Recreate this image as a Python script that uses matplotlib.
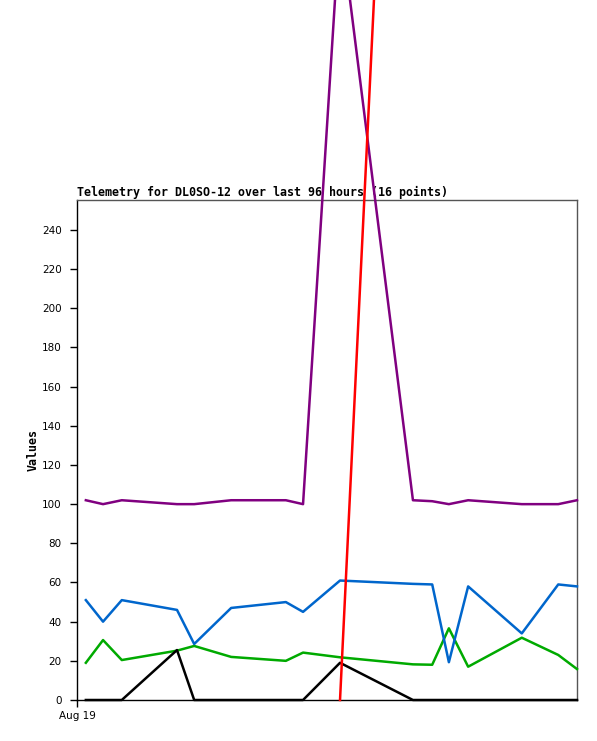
import numpy as np
import matplotlib
matplotlib.use("Agg")
import matplotlib.pyplot as plt

# hours since Aug 19 00:00
hours = [1.7, 5.0, 8.6, 19.2, 22.5, 29.6, 40.1, 43.4, 50.5, 64.5, 68.2, 71.4, 75.1, 85.4, 92.4, 96.0]
purple = [102, 100, 102, 100, 100, 102, 102, 100, 398, 102, 101.5, 100, 102, 100, 100, 102]
blue = [51, 40, 51, 46, 28.6, 47, 50, 45, 61, 59.3, 59, 19.3, 58, 34, 59, 58]
green = [19, 30.6, 20.4, 25.2, 27.6, 22, 20, 24.2, 21.8, 18.2, 18, 36.6, 17, 31.8, 23, 15.8]
black = [0, 0, 0, 25.5, 0, 0, 0, 0, 19, 0, 0, 0, 0, 0, 0, 0]
red = [np.nan] * 8 + [0, 768] + [np.nan] * 6
xtick_pos = [0]
xtick_labels = ["Aug 19"]
yticks = list(range(0, 241, 20))

W, H = 597, 741
fig = plt.figure(figsize=(W / 100, H / 100), dpi=100)
ax = fig.add_axes([77 / W, (H - 700) / H, 500 / W, 500 / H])

lw = 1.8
ax.plot(hours, green, color="#00aa00", lw=lw, clip_on=False, zorder=3)
ax.plot(hours, blue, color="#0066cc", lw=lw, clip_on=False, zorder=4)
ax.plot(hours, black, color="#000000", lw=lw, clip_on=False, zorder=5)
ax.plot(hours, purple, color="#800080", lw=lw, clip_on=False, zorder=6)
ax.plot(hours, red, color="#ff0000", lw=lw, clip_on=False, zorder=7)

ax.set_xlim(0, 96)
ax.set_ylim(0, 255.3)
ax.set_yticks(yticks)
ax.set_yticklabels([str(v) for v in yticks], fontsize=7.5, family="DejaVu Sans")
ax.set_xticks(xtick_pos)
ax.set_xticklabels(xtick_labels, fontsize=7.5, family="DejaVu Sans")
ax.tick_params(axis="y", direction="out", length=5, width=1, pad=6)
ax.tick_params(axis="x", direction="out", length=5, width=1, pad=3)

for s in ["left", "bottom"]:
    ax.spines[s].set_color("black")
    ax.spines[s].set_linewidth(1)
for s in ["top", "right"]:
    ax.spines[s].set_color("#555555")
    ax.spines[s].set_linewidth(1)

ax.set_ylabel("Values", family="DejaVu Sans Mono", fontweight="bold", fontsize=8.4, labelpad=2)
ax.set_title("Telemetry for DL0SO-12 over last 96 hours (16 points)", loc="left",
             family="DejaVu Sans Mono", fontweight="bold", fontsize=8.4, pad=3)

fig.savefig("out.png", dpi=100)
